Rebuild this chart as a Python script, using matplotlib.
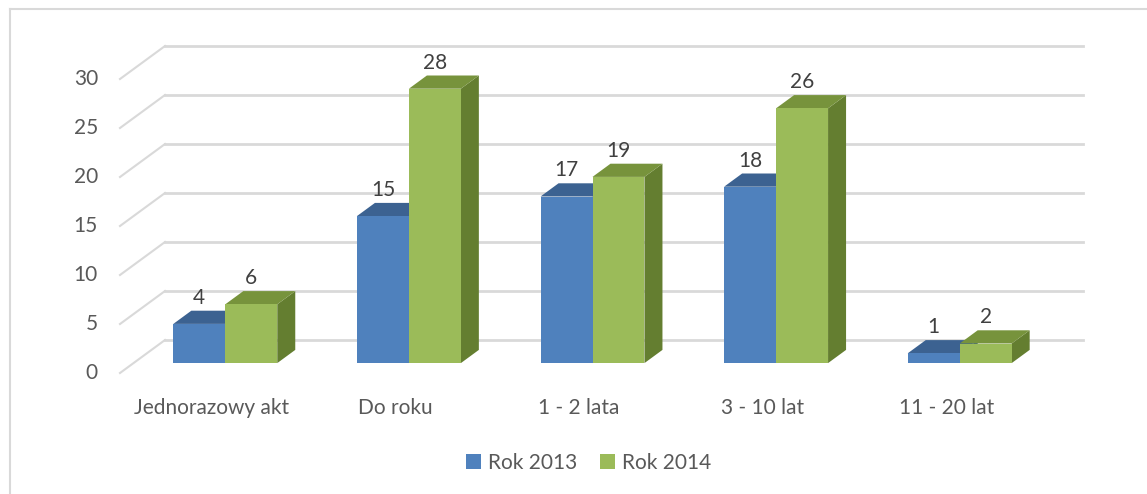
import numpy as np
import matplotlib
matplotlib.use('Agg')
import matplotlib.pyplot as plt
from matplotlib.patches import Polygon, Patch
from matplotlib.lines import Line2D

plt.rcParams['font.family'] = ['Lato', 'DejaVu Sans']

categories = ['Jednorazowy akt', 'Do roku', '1 - 2 lata', '3 - 10 lat', '11 - 20 lat']
rok_2013 = [4, 15, 17, 18, 1]
rok_2014 = [6, 28, 19, 26, 2]
series_names = ['Rok 2013', 'Rok 2014']
y_ticks = [0, 5, 10, 15, 20, 25, 30]

# colours: front, top, side
blue = ('#4F81BD', '#3C6291', '#385D8A')
green = ('#9BBB59', '#77933C', '#647E30')
grid_col = '#D9D9D9'
text_col = '#595959'

W, H = 1147, 494
fig = plt.figure(figsize=(W / 100, H / 100), dpi=100)
ax = fig.add_axes([0, 0, 1, 1])

# pixel mapping -> data units (x: category, y: value)
px_per_cat = 183.6
px_per_val = 9.8
x0_px, y0_px = 211.8, 373
ax.set_xlim(-x0_px / px_per_cat, (W - x0_px) / px_per_cat)
ax.set_ylim((y0_px - H) / px_per_val, y0_px / px_per_val)
ax.axis('off')

# oblique depth offset (full floor depth)
DX = 45 / px_per_cat
DY = 33 / px_per_val
floor_l, floor_r = -0.5, 4.5

# back wall gridlines + left side wall diagonals
for v in y_ticks:
    ax.plot([floor_l + DX, floor_r + DX], [v + DY, v + DY], color=grid_col, lw=2, zorder=1)
    ax.plot([floor_l, floor_l + DX], [v, v + DY], color=grid_col, lw=1.5, zorder=1)
    ax.text(floor_l - 0.12, v, str(v), ha='right', va='center', fontsize=15, color=text_col)

# bars
d0, d1 = 0.3, 0.7
bw = 0.283
shift = d0 * DX
for vals, cols, off in [(rok_2013, blue, -bw), (rok_2014, green, 0.0)]:
    x = np.arange(len(categories)) + shift + off
    base = d0 * DY
    bdx, bdy = (d1 - d0) * DX, (d1 - d0) * DY
    for xi, v in zip(x, vals):
        top = base + v
        ax.add_patch(Polygon([(xi + bw, base), (xi + bw + bdx, base + bdy),
                              (xi + bw + bdx, top + bdy), (xi + bw, top)],
                             closed=True, fc=cols[2], ec='none', zorder=3))
        ax.add_patch(Polygon([(xi, top), (xi + bdx, top + bdy),
                              (xi + bw + bdx, top + bdy), (xi + bw, top)],
                             closed=True, fc=cols[1], ec='none', zorder=3))
    ax.bar(x, vals, width=bw, bottom=base, align='edge', color=cols[0], zorder=3)
    for xi, v in zip(x, vals):
        ax.text(xi + bw / 2, base + v + bdy + 0.3, str(v), ha='center', va='bottom',
                fontsize=15, color='#404040', zorder=5)

for i, c in enumerate(categories):
    ax.text(i, (y0_px - 408) / px_per_val, c, ha='center', va='center',
            fontsize=15, color=text_col)

# chart border
fig.add_artist(Line2D([9.5 / W, 9.5 / W], [0, 1 - 9 / H], color=grid_col, lw=1.5))
fig.add_artist(Line2D([9.5 / W, 1], [1 - 9 / H, 1 - 9 / H], color=grid_col, lw=1.5))

handles = [Patch(fc=blue[0]), Patch(fc=green[0])]
fig.legend(handles, series_names, loc='center', bbox_to_anchor=(589 / W, 1 - 463 / H),
           ncol=2, frameon=False, fontsize=15, handlelength=0.7, handleheight=0.7,
           handletextpad=0.35, columnspacing=1.1, labelcolor=text_col)

fig.savefig('out.png', dpi=100)
